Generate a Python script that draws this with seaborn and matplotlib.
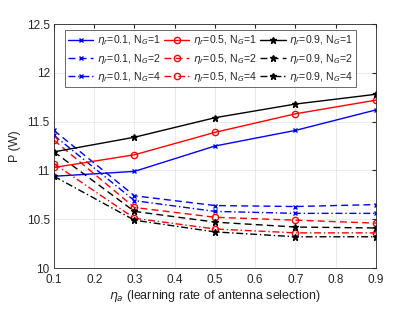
import pandas as pd
import matplotlib
matplotlib.use('Agg')
import matplotlib.pyplot as plt
import seaborn as sns

eta_a = [0.1, 0.3, 0.5, 0.7, 0.9]

# eta_r = 0.1
p_r01_g1 = [10.94, 10.99, 11.25, 11.41, 11.62]
p_r01_g2 = [11.41, 10.74, 10.64, 10.63, 10.65]
p_r01_g4 = [11.36, 10.69, 10.58, 10.56, 10.56]
# eta_r = 0.5
p_r05_g1 = [11.03, 11.16, 11.39, 11.58, 11.72]
p_r05_g2 = [11.31, 10.62, 10.52, 10.49, 10.46]
p_r05_g4 = [11.07, 10.51, 10.40, 10.36, 10.36]
# eta_r = 0.9
p_r09_g1 = [11.19, 11.34, 11.54, 11.68, 11.78]
p_r09_g2 = [11.19, 10.58, 10.47, 10.42, 10.41]
p_r09_g4 = [10.94, 10.49, 10.37, 10.32, 10.32]

series = [
    ('0.1', '1', p_r01_g1), ('0.1', '2', p_r01_g2), ('0.1', '4', p_r01_g4),
    ('0.5', '1', p_r05_g1), ('0.5', '2', p_r05_g2), ('0.5', '4', p_r05_g4),
    ('0.9', '1', p_r09_g1), ('0.9', '2', p_r09_g2), ('0.9', '4', p_r09_g4),
]

colors = {'0.1': '#0000ff', '0.5': '#ff0000', '0.9': '#000000'}
markers = {'0.1': 'x', '0.5': 'o', '0.9': '*'}
msizes = {'0.1': 3.5, '0.5': 4.5, '0.9': 5}
styles = {'1': '-', '2': (0, (5, 3)), '4': (0, (5, 2, 1, 2))}

rows = []
for r, g, vals in series:
    for x, v in zip(eta_a, vals):
        rows.append({'eta_a': x, 'P': v, 'eta_r': r, 'NG': g})
df = pd.DataFrame(rows)

sns.set_style('white')
plt.rcParams['font.family'] = ['Liberation Sans', 'DejaVu Sans']

fig = plt.figure(figsize=(4.15, 3.12), dpi=100)
ax = fig.add_axes([0.130, 0.141, 0.776, 0.782])

for r, g, _ in series:
    sub = df[(df.eta_r == r) & (df.NG == g)]
    sns.lineplot(data=sub, x='eta_a', y='P', ax=ax, color=colors[r],
                 marker=markers[r], markersize=msizes[r],
                 markerfacecolor='none' if r == '0.5' else colors[r],
                 markeredgecolor=colors[r], markeredgewidth=1.0,
                 linestyle=styles[g], linewidth=1.0,
                 label=r'$\eta_r$=' + r + r', N$_G$=' + g)

ax.set_xlim(0.1, 0.9)
ax.set_ylim(10, 12.5)
ax.set_xticks([0.1, 0.2, 0.3, 0.4, 0.5, 0.6, 0.7, 0.8, 0.9])
ax.set_yticks([10, 10.5, 11, 11.5, 12, 12.5])
ax.set_yticklabels(['10', '10.5', '11', '11.5', '12', '12.5'])
ax.grid(True, color='#e6e6e6', linewidth=0.6)
ax.tick_params(direction='in', labelsize=8.5, length=3, color='#262626', top=True, right=True,
               labeltop=False, labelright=False)
ax.tick_params(axis='x', pad=4)
ax.tick_params(axis='y', pad=3)
for s in ax.spines.values():
    s.set_color('#262626')
    s.set_linewidth(0.6)
ax.set_xlabel(r'$\eta_a$ (learning rate of antenna selection)', fontsize=9, labelpad=2)
ax.set_ylabel('P (W)', fontsize=9, labelpad=4)

leg = ax.legend(ncol=3, loc='upper left', bbox_to_anchor=(0.034, 0.975), fontsize=7.6,
                frameon=True, fancybox=False, edgecolor='#262626', columnspacing=0.35,
                handlelength=2.4, handletextpad=0.3, labelspacing=0.4, borderpad=0.3,
                borderaxespad=0)
leg.get_frame().set_linewidth(0.6)

fig.savefig('out.png', dpi=100)
